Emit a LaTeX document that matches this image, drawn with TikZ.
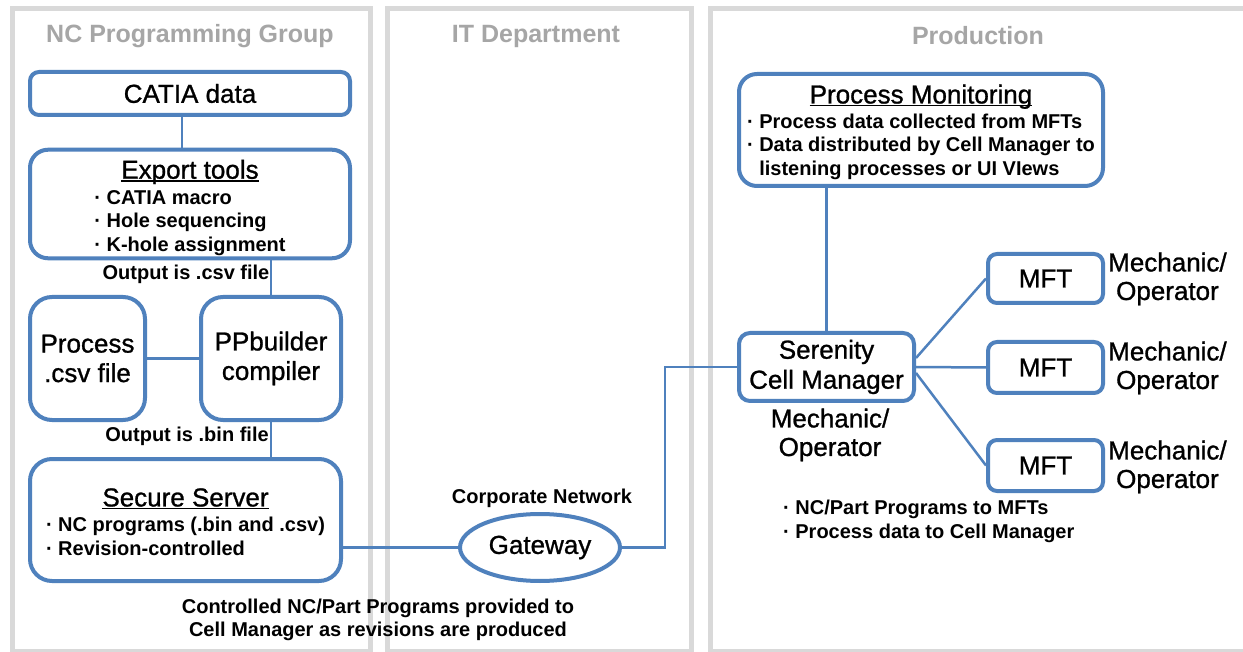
\documentclass[tikz,border=0pt]{standalone}
\usepackage{fontspec}
\setmainfont{Liberation Sans}
\newfontfamily\heavyface{Liberation Sans}[FakeBold=1]
\usetikzlibrary{calc,shapes.geometric}

\definecolor{boxblue}{RGB}{79,129,189}
\definecolor{panelgray}{RGB}{217,217,217}
\definecolor{titlegray}{RGB}{166,166,166}

% type sizes used in the chart
\newcommand\bigfont{\heavyface\fontsize{26}{28.5}\selectfont}
\newcommand\smallbold{\fontsize{20}{23.5}\selectfont\bfseries}
% underline sitting just below the baseline
\newcommand\titleline[1]{\setbox0\hbox{#1}\rlap{\rule[-2.8pt]{\wd0}{1.6pt}}\box0}

\begin{document}
\begin{tikzpicture}[x=1pt,y=-1pt,
  panel/.style={draw=panelgray,line width=5pt},
  paneltitle/.style={text=titlegray,inner sep=0pt,font=\fontsize{25}{28}\selectfont\bfseries},
  box/.style={draw=boxblue,line width=4pt,fill=white,rounded corners=#1,
    inner sep=0pt,align=center,font=\bigfont},
  box/.default=10pt,
  conn/.style={draw=boxblue,line width=2.5pt},
  lbl/.style={inner sep=0pt,align=center,font=\smallbold},
  biglbl/.style={inner sep=0pt,align=center,font=\bigfont},
]
\useasboundingbox (0,0) rectangle (1243,652);
\clip (0,0) rectangle (1243,652);
\fill[white] (0,0) rectangle (1243,652);

% ---- department panels
\draw[panel] (12.5,9) rectangle (370,651);
\draw[panel] (387.5,9) rectangle (691,651);
\draw[panel] (710,9) rectangle (1270,651);
\node[paneltitle] (t1) at (190,36) {NC Programming Group};
\node[paneltitle] (t2) at (536,36) {IT Department};
\node[paneltitle] (t3) at (978,36) {Production};

% ---- NC programming group
\node[box=9pt,minimum width=320pt,minimum height=43pt] (catia) at (190,93.5) {CATIA data};
\node[box=18pt,minimum width=320pt,minimum height=104pt,font=\smallbold] (export) at (190,204)
  {{\bigfont\mdseries\rule{0pt}{29pt}\titleline{Export tools}}\\[2pt]
   \begin{tabular}[t]{@{}l@{}}· CATIA macro\\· Hole sequencing\\· K-hole assignment\end{tabular}};
\node[box=22pt,minimum width=115pt,minimum height=123pt] (csv) at (87.5,358.5) {Process\\[1pt].csv file};
\node[box=22pt,minimum width=140pt,minimum height=123pt] (ppb) at (271,358.5) {PPbuilder\\[1pt]compiler};
\node[box=22pt,minimum width=311pt,minimum height=122pt,font=\smallbold] (secure) at (185.5,520)
  {{\bigfont\mdseries\rule{0pt}{29pt}\titleline{Secure Server}}\\[2pt]
   \begin{tabular}[t]{@{}l@{}}· NC programs (.bin and .csv)\\· Revision-controlled\end{tabular}};
\node[lbl] (csvout) at (186,274) {Output is .csv file};
\node[lbl] (binout) at (187,436) {Output is .bin file};
\node[lbl] (ctrl) at (378,620) {Controlled NC/Part Programs provided to\\Cell Manager as revisions are produced};

% ---- IT department
\node[draw=boxblue,line width=4pt,fill=white,ellipse,minimum width=160pt,minimum height=67pt,
  inner sep=0pt,font=\bigfont] (gw) at (540,547.5) {Gateway};
\node[lbl] (corp) at (542,498) {Corporate Network};

% ---- production
\node[box=18pt,minimum width=364pt,minimum height=112pt,font=\smallbold] (pm) at (921,130)
  {{\bigfont\mdseries\rule{0pt}{26pt}\titleline{Process Monitoring}}\\[1.5pt]
   \begin{tabular}[t]{@{}l@{\hspace{5.5pt}}l@{}}·&Process data collected from MFTs\\
     ·&Data distributed by Cell Manager to\\&listening processes or UI VIews\end{tabular}};
\node[box=11pt,minimum width=175pt,minimum height=68pt] (ser) at (826.5,367) {Serenity\\[1.5pt]Cell Manager};
\node[biglbl] (serop) at (830,435) {Mechanic/\\Operator};
\node[box=9pt,minimum width=115pt,minimum height=49pt,font=\bigfont] (mft1) at (1045.5,278.5) {MFT};
\node[box=9pt,minimum width=115pt,minimum height=51pt,font=\bigfont] (mft2) at (1045.5,367.5) {MFT};
\node[box=9pt,minimum width=115pt,minimum height=51pt,font=\bigfont] (mft3) at (1045.5,465.5) {MFT};
\node[biglbl,anchor=west] (op1) at (1108,279) {Mechanic/\\Operator};
\node[biglbl,anchor=west] (op2) at (1108,368) {Mechanic/\\Operator};
\node[biglbl,anchor=west] (op3) at (1108,467) {Mechanic/\\Operator};
\node[lbl,anchor=west] (flow) at (783,522)
  {\begin{tabular}{@{}l@{}}· NC/Part Programs to MFTs\\· Process data to Cell Manager\end{tabular}};

% ---- connectors
\draw[conn] ([xshift=-8pt]catia.south) -- ([xshift=-8pt]export.north);
\draw[conn] (ppb.north |- export.south) -- (ppb.north);
\draw[conn] (csv.east) -- (ppb.west);
\draw[conn] (ppb.south) -- (ppb.south |- secure.north);
\draw[conn] (secure.east |- gw.west) -- (gw.west);
\draw[conn] (gw.east) -- ++(43,0) |- (ser.west);
\draw[conn] (ser.north |- pm.south) -- (ser.north);
\draw[conn] ([yshift=9pt]ser.east) -- (mft1.west);
\draw[conn] (ser.east) -- (mft2.west);
\draw[conn] ([yshift=-6pt]ser.east) -- (mft3.west);
\end{tikzpicture}
\end{document}
